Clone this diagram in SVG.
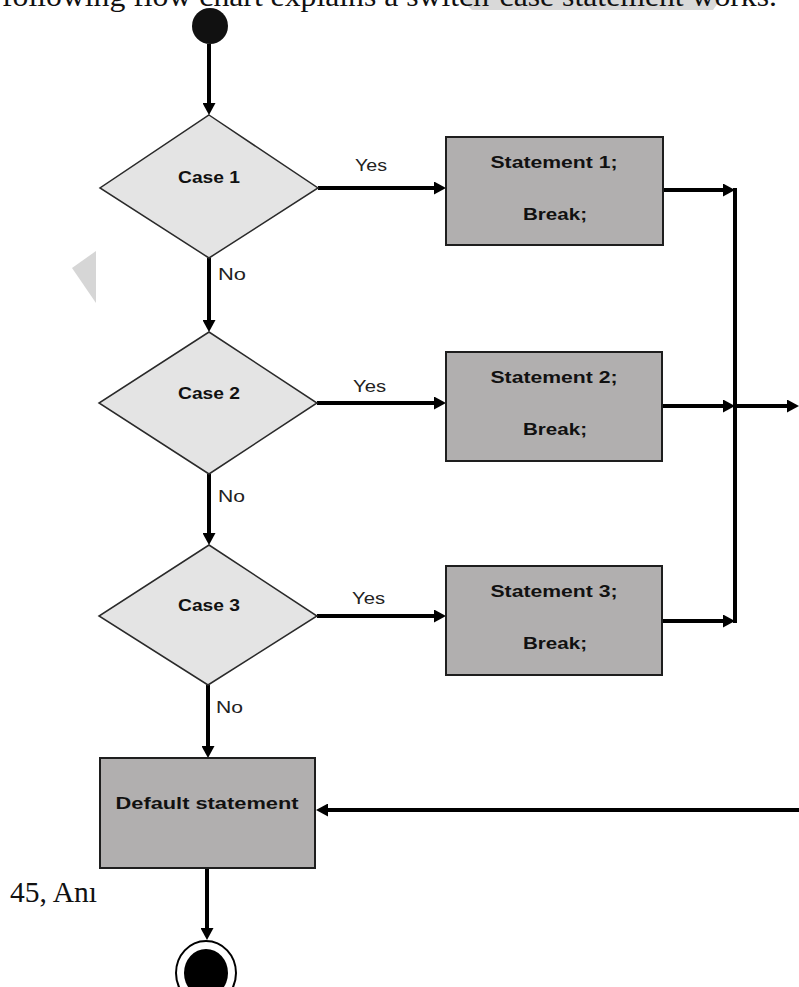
<svg xmlns="http://www.w3.org/2000/svg" width="799" height="987" viewBox="0 0 799 987">
<style>
.bg{fill:#ffffff}
.dia{fill:#e4e4e4;stroke:#2a2a2a;stroke-width:1.5}
.box{fill:#b1afaf;stroke:#1e1e1e;stroke-width:2}
.lbl{font-family:"Liberation Sans",Arial,sans-serif;font-weight:bold;font-size:17px;fill:#111;text-anchor:middle}
.yn{font-family:"Liberation Sans",Arial,sans-serif;font-size:17px;fill:#222}
.con{fill:none;stroke:#000;stroke-width:4}
.page{font-family:"Liberation Serif","Times New Roman",serif;fill:#111}
</style>
<defs>
<marker id="ah" markerUnits="userSpaceOnUse" markerWidth="13" markerHeight="13" refX="1" refY="6.5" orient="auto">
<path d="M0,0 L12,6.5 L0,13 z" fill="#000"/>
</marker>
</defs>
<rect class="bg" x="0" y="0" width="799" height="987"/>
<polygon points="462,0 720,0 713,10 472,10" fill="#d9d9d9"/>
<polygon points="72,268 96,251 96,303" fill="#d6d6d6"/>
<text class="page" x="2" y="6" font-size="29" textLength="775" lengthAdjust="spacingAndGlyphs">following flow chart explains a switch-case statement works.</text>
<text class="page" x="10" y="902" font-size="30" textLength="87" lengthAdjust="spacingAndGlyphs">45, Anı</text>

<g id="connectors">
<path class="con" d="M209,44 V104" marker-end="url(#ah)"/>
<path class="con" d="M318,188 H435" marker-end="url(#ah)"/>
<path class="con" d="M663,190 H724" marker-end="url(#ah)"/>
<path class="con" d="M209,258 V321" marker-end="url(#ah)"/>
<path class="con" d="M317,403 H435" marker-end="url(#ah)"/>
<path class="con" d="M662,406 H724" marker-end="url(#ah)"/>
<path class="con" d="M735,188 V623"/>
<path class="con" d="M735,406 H788" marker-end="url(#ah)"/>
<path class="con" d="M209,474 V534" marker-end="url(#ah)"/>
<path class="con" d="M317,616 H435" marker-end="url(#ah)"/>
<path class="con" d="M662,621 H724" marker-end="url(#ah)"/>
<path class="con" d="M208,685 V747" marker-end="url(#ah)"/>
<path class="con" d="M799,810 H327" marker-end="url(#ah)"/>
<path class="con" d="M207,868 V929" marker-end="url(#ah)"/>
<text class="yn" x="355" y="171" textLength="32" lengthAdjust="spacingAndGlyphs">Yes</text>
<text class="yn" x="218" y="280" textLength="28" lengthAdjust="spacingAndGlyphs">No</text>
<text class="yn" x="353" y="392" textLength="33" lengthAdjust="spacingAndGlyphs">Yes</text>
<text class="yn" x="218" y="502" textLength="27" lengthAdjust="spacingAndGlyphs">No</text>
<text class="yn" x="352" y="604" textLength="33" lengthAdjust="spacingAndGlyphs">Yes</text>
<text class="yn" x="216" y="713" textLength="27" lengthAdjust="spacingAndGlyphs">No</text>
</g>

<g id="start">
<ellipse cx="210" cy="26" rx="18" ry="18" fill="#111"/>
</g>

<g id="case1">
<polygon class="dia" points="209,115 318,188 209,258 100,188"/>
<text class="lbl" x="209" y="183" textLength="62" lengthAdjust="spacingAndGlyphs">Case 1</text>
</g>
<g id="case2">
<polygon class="dia" points="209,332 317,403 209,474 99,403"/>
<text class="lbl" x="209" y="399" textLength="62" lengthAdjust="spacingAndGlyphs">Case 2</text>
</g>
<g id="case3">
<polygon class="dia" points="209,545 317,616 208,685 99,616"/>
<text class="lbl" x="209" y="611" textLength="62" lengthAdjust="spacingAndGlyphs">Case 3</text>
</g>

<g id="stmt1">
<rect class="box" x="446" y="137" width="217" height="108"/>
<text class="lbl" x="554" y="168" textLength="127" lengthAdjust="spacingAndGlyphs">Statement 1;</text>
<text class="lbl" x="555" y="220" textLength="64" lengthAdjust="spacingAndGlyphs">Break;</text>
</g>
<g id="stmt2">
<rect class="box" x="446" y="352" width="216" height="109"/>
<text class="lbl" x="554" y="383" textLength="127" lengthAdjust="spacingAndGlyphs">Statement 2;</text>
<text class="lbl" x="555" y="435" textLength="64" lengthAdjust="spacingAndGlyphs">Break;</text>
</g>
<g id="stmt3">
<rect class="box" x="446" y="566" width="216" height="109"/>
<text class="lbl" x="554" y="597" textLength="127" lengthAdjust="spacingAndGlyphs">Statement 3;</text>
<text class="lbl" x="555" y="649" textLength="64" lengthAdjust="spacingAndGlyphs">Break;</text>
</g>

<g id="default">
<rect class="box" x="100" y="758" width="215" height="110"/>
<text class="lbl" x="207" y="809" textLength="183" lengthAdjust="spacingAndGlyphs">Default statement</text>
</g>

<g id="end">
<ellipse cx="206" cy="973" rx="30" ry="32" fill="#fff" stroke="#000" stroke-width="2"/>
<ellipse cx="206" cy="973" rx="22" ry="24" fill="#000"/>
</g>
</svg>
